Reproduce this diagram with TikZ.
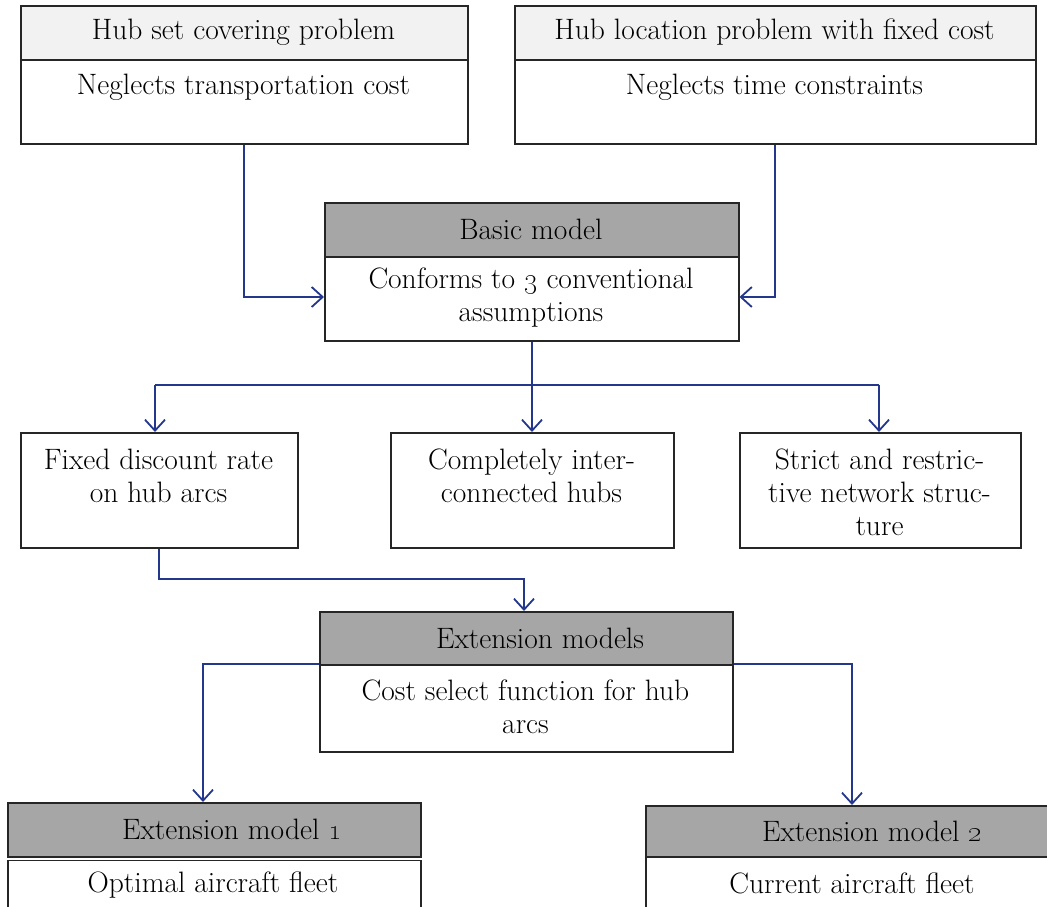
\documentclass[tikz,border=0pt]{standalone}
\usetikzlibrary{arrows.meta}
\definecolor{flowblue}{RGB}{35,55,140}
\definecolor{lighthead}{RGB}{242,242,242}
\definecolor{darkhead}{RGB}{166,166,166}
\begin{document}
\begin{tikzpicture}[x=1pt,y=-1pt,
  every node/.style={font=\fontsize{29.5}{33}\selectfont, inner sep=0pt},
  box/.style={draw=black!85, line width=1.5pt, rectangle, anchor=north west},
  lhead/.style={box, fill=lighthead},
  dhead/.style={box, fill=darkhead},
  body/.style={box, fill=white},
  txt/.style={align=center},
  flow/.style={draw=flowblue, line width=1.8pt, -{Straight Barb[length=11pt,width=20pt,line width=1.8pt]}},
  link/.style={draw=flowblue, line width=1.8pt}
]
\useasboundingbox (0,0) rectangle (1047,906);
\clip (0,0) rectangle (1047,906);

% top-left: hub set covering problem
\node[lhead, minimum width=447pt, minimum height=54pt] (ah) at (20,5) {};
\node[body,  minimum width=447pt, minimum height=84pt] (ab) at (20,59) {};
\node[txt] (aht) at (243.5,32) {Hub set covering problem};
\node[txt] (abt) at (243.5,87) {Neglects transportation cost};

% top-right: hub location problem with fixed cost
\node[lhead, minimum width=521pt, minimum height=54pt] (bh) at (514,5) {};
\node[body,  minimum width=521pt, minimum height=84pt] (bb) at (514,59) {};
\node[txt] (bht) at (774.5,32) {Hub location problem with fixed cost};
\node[txt] (bbt) at (774.5,87) {Neglects time constraints};

% basic model
\node[dhead, minimum width=414pt, minimum height=54pt] (mh) at (324,202) {};
\node[body,  minimum width=414pt, minimum height=84pt] (mb) at (324,256) {};
\node[txt] (mht) at (531,229) {Basic model};
\node[txt] (mbt) at (531,298) {Conforms to \oldstylenums{3} conventional\\assumptions};

% the three conventional assumptions
\node[body, minimum width=277pt, minimum height=115pt] (c) at (20,432) {};
\node[txt] (ct) at (158.5,476) {Fixed discount rate\\on hub arcs};
\node[body, minimum width=283pt, minimum height=115pt] (d) at (390,432) {};
\node[txt] (dt) at (531.5,476) {Completely inter-\\connected hubs};
\node[body, minimum width=281pt, minimum height=115pt] (e) at (739,432) {};
\node[txt] (et) at (879.5,492) {Strict and restric-\\tive network struc-\\ture};

% extension models
\node[dhead, minimum width=413pt, minimum height=53pt] (xh) at (319,611) {};
\node[body,  minimum width=413pt, minimum height=87pt] (xb) at (319,664) {};
\node[txt] (xht) at (540,638) {Extension models};
\node[txt] (xbt) at (525.5,707) {Cost select function for hub\\arcs};

% extension model 1
\node[dhead, minimum width=413pt, minimum height=54pt] (p1h) at (7,802) {};
\node[body,  minimum width=413pt, minimum height=80pt] (p1b) at (7,859.5) {};
\node[txt] (p1ht) at (232,829) {Extension model \oldstylenums{1}};
\node[txt] (p1bt) at (213,885) {Optimal aircraft fleet};

% extension model 2
\node[dhead, minimum width=410pt, minimum height=51pt] (p2h) at (645,805) {};
\node[body,  minimum width=410pt, minimum height=80pt] (p2b) at (645,856) {};
\node[txt] (p2ht) at (872,831) {Extension model \oldstylenums{2}};
\node[txt] (p2bt) at (852,883) {Current aircraft fleet};

% connectors
\coordinate (bend) at (532,385);
\draw[flow] (ab.south west -| 244,0) |- (mb.west |- 0,297);
\draw[flow] (bb.south west -| 775,0) |- (mb.east |- 0,297);
\draw[link] (mb.south -| 532,0) -- (bend);
\draw[link] (155,385) -- (879,385);
\draw[flow] (155,385) -- (c.north -| 155,0);
\draw[flow] (bend) -- (d.north -| 532,0);
\draw[flow] (879,385) -- (e.north -| 879,0);
\draw[flow] (c.south -| 159,0) |- (524,579) -- (xh.north -| 524,0);
\draw[flow] (xb.north west) -| (p1h.north -| 203,0);
\draw[flow] (xb.north east) -| (p2h.north -| 852,0);
\end{tikzpicture}
\end{document}
